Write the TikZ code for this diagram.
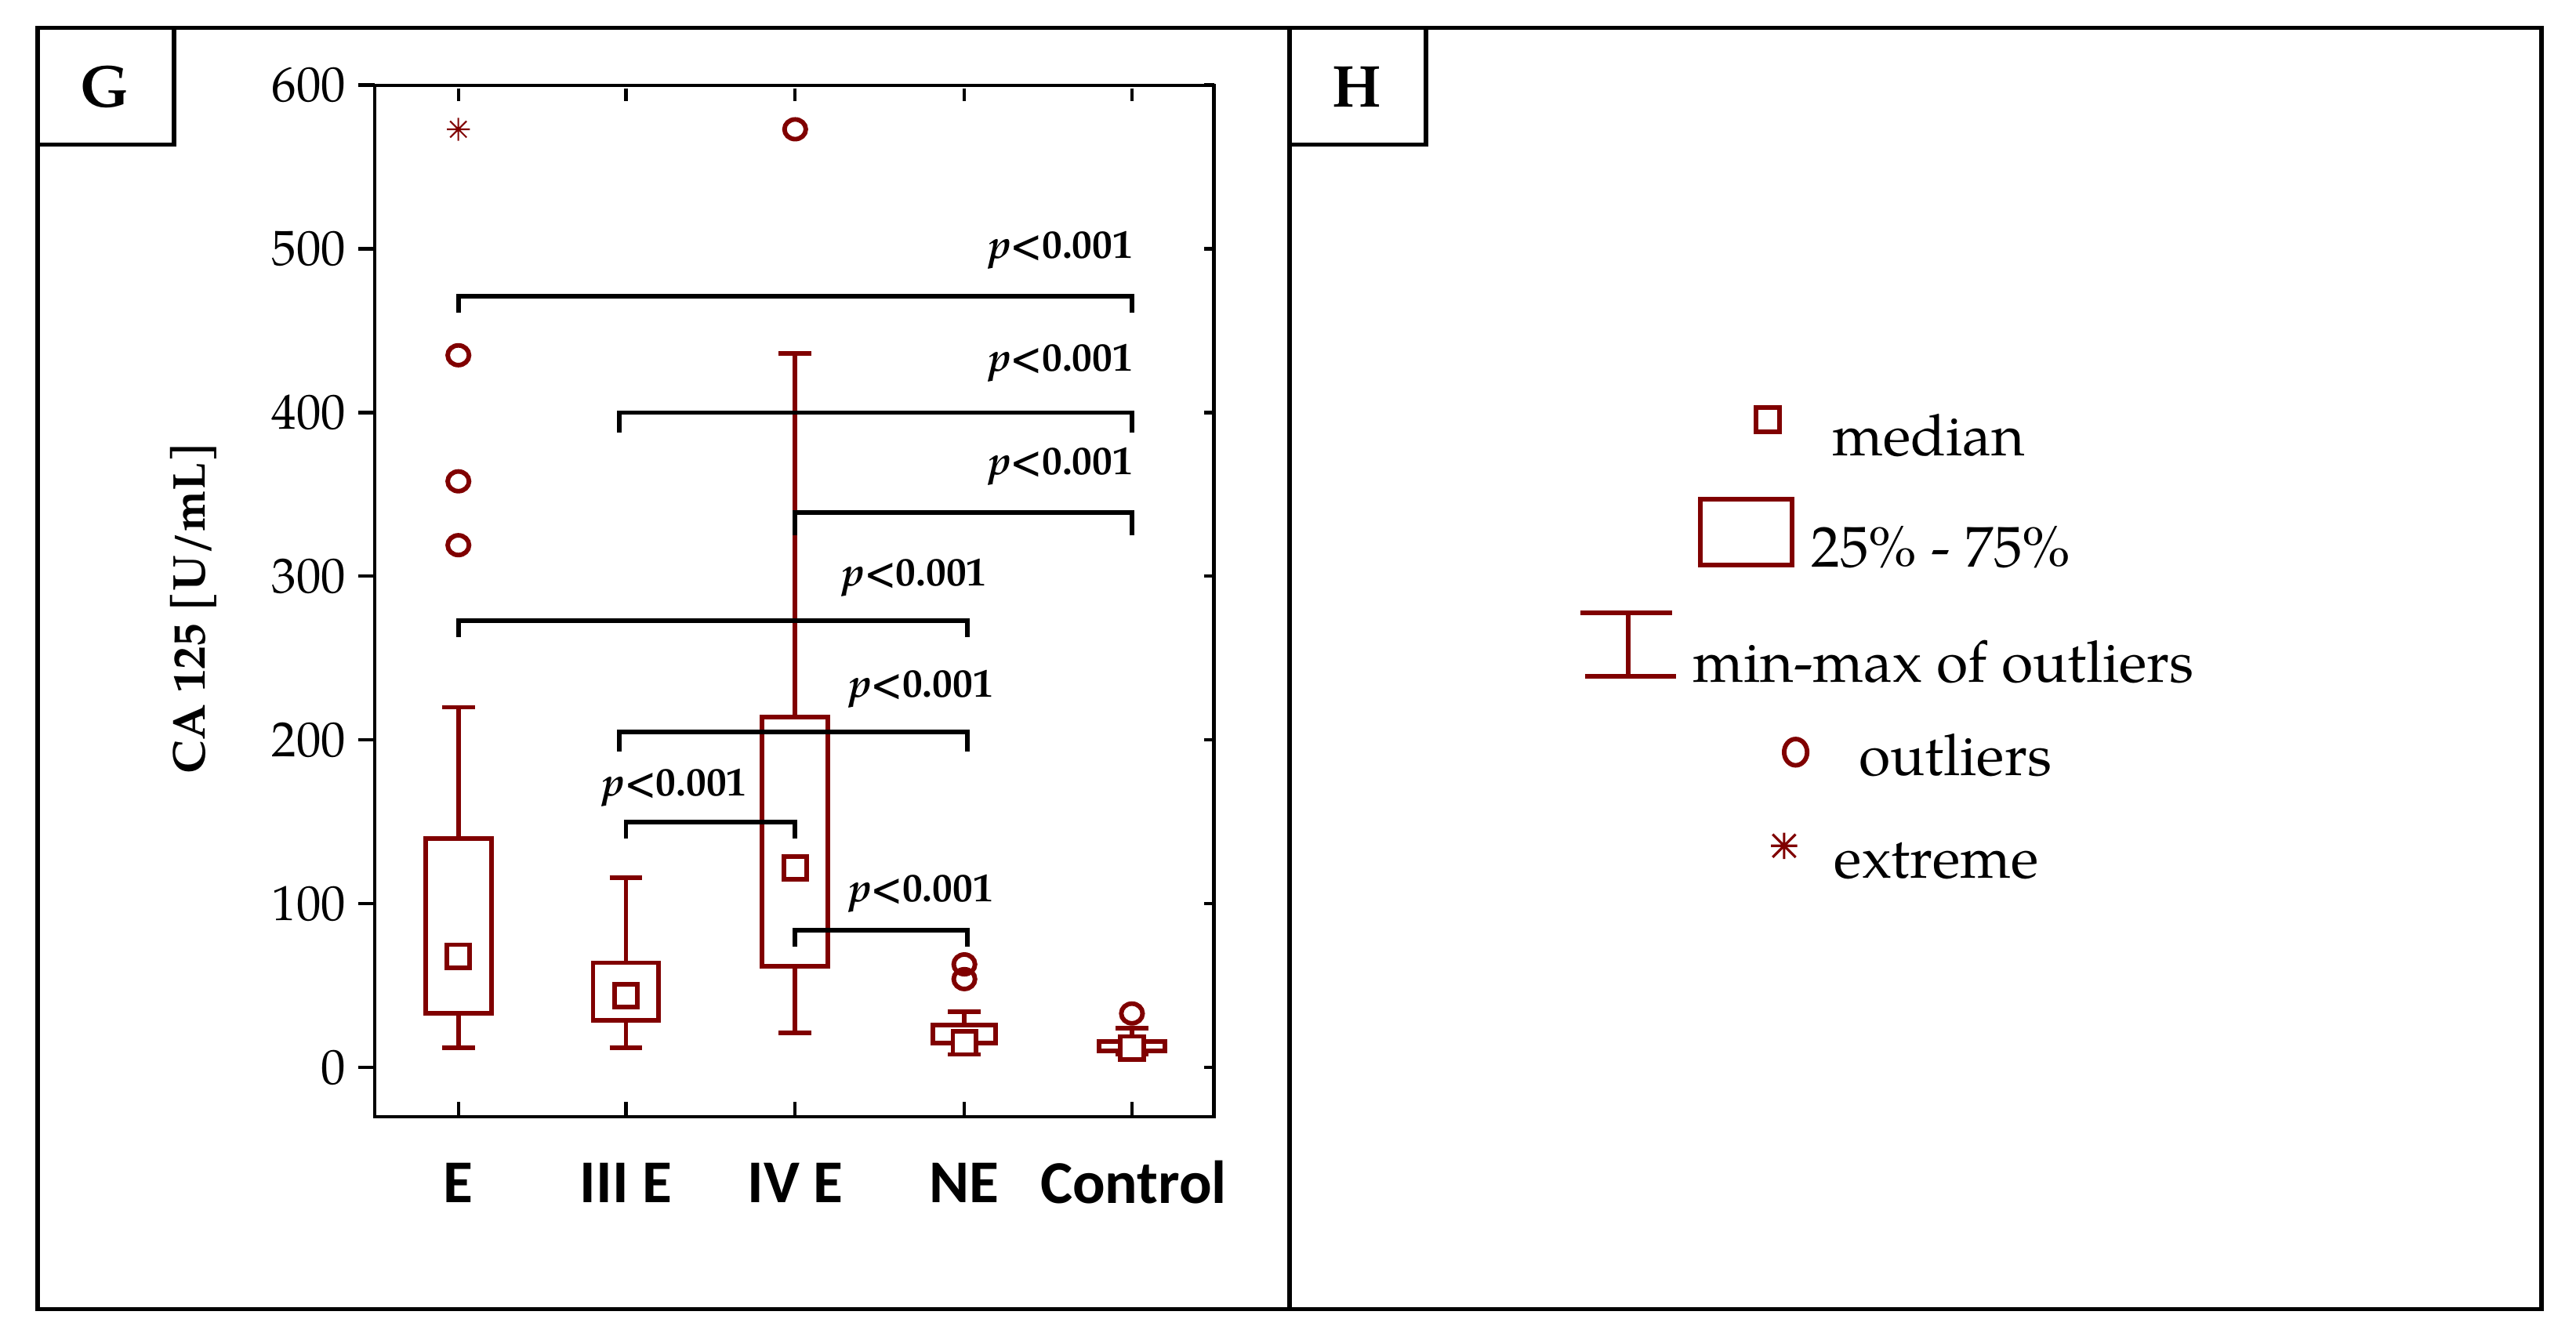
\documentclass[tikz,border=0pt]{standalone}
\usepackage{fontspec}
\setmainfont{TeX Gyre Pagella}[]
\newfontfamily\sansb{Carlito}
\begin{document}
\begin{tikzpicture}[x=1pt,y=-1pt,
  dr/.style={draw=red!50!black,line width=2.8pt},
  frame/.style={draw=black,line width=2.6pt},
  br/.style={draw=black,line width=2.8pt},
  pl/.style={font=\fontsize{24.5}{26}\selectfont\bfseries},
  tk/.style={font=\fontsize{30}{32}\selectfont},
  cat/.style={font=\fontsize{37}{39}\selectfont\sansb\bfseries},
  lg/.style={font=\fontsize{35}{37}\selectfont,anchor=west}]
\useasboundingbox (0,0) rectangle (1568,818);
% frames
\draw[frame] (23,17) rectangle (1547,797);
\draw[frame] (785,17) -- (785,797);
\draw[frame] (23,88) -- (106,88) -- (106,17);
\draw[frame] (785,88) -- (868,88) -- (868,17);
\node[font=\fontsize{36}{38}\selectfont\bfseries] (G) at (64,53) {G};
\node[font=\fontsize{36}{38}\selectfont\bfseries] (H) at (826,53) {H};
% axes frame
\draw[frame,line width=2.2pt] (228,52) rectangle (739,680);
\node[tk,anchor=east] at (214,52) {600};
\node[cat] at (279,720) {E};
\node[cat] at (381,720) {III E};
\node[cat] at (484,720) {IV E};
\node[cat] at (587,720) {NE};
\node[cat] at (690,720) {Control};
\node[font=\fontsize{28}{30}\selectfont\bfseries,rotate=90] (yl) at (118,370) {CA 125 [U/mL]};
\begin{scope}[shift={(0,650)},y=0.997pt]
 \foreach \v in {0,100,...,500}{
   \node[tk,anchor=east] at (214,\v) {\v};
 }
 \foreach \v in {0,100,...,600}{
   \draw[line width=2pt] (218,\v) -- (228,\v);
   \draw[line width=2pt] (733,\v) -- (739,\v);
 }
 \foreach \x in {279,381,484,587,689}{
   \draw[line width=2pt] (\x,-30) -- (\x,-21);
   \draw[line width=2pt] (\x,598) -- (\x,590);
 }
 \foreach \x/\a/\b/\lo/\hi/\m/\w in {279/33/140/12/220/68/20, 381/29/64/12/116/44/20, 484/62/214/21/436/122/20, 587/15/26/8/34/15/19, 689/10/16/8/24/12/20}{
   \draw[dr] (\x-\w,\a) rectangle (\x+\w,\b);
   \draw[dr] (\x,\b) -- (\x,\hi) (\x-10,\hi) -- (\x+10,\hi);
   \draw[dr] (\x,\a) -- (\x,\lo) (\x-10,\lo) -- (\x+10,\lo);
   \draw[dr,fill=white] (\x-7,\m-7) rectangle (\x+7,\m+7);
 }
 \foreach \x/\v in {279/435,279/358,279/319,484/573,587/63,587/54,689/33}{
   \draw[dr] (\x,\v) ellipse (6.5pt and 6pt);
 }
 \draw[red!50!black,line width=1pt] (272,573) -- (286,573) (279,580) -- (279,566) (274,578) -- (284,568) (274,568) -- (284,578);
 \foreach \a/\b/\v/\d in {279/689/471/10, 377/689/400/12, 484/689/339/14, 279/589/273/10, 377/589/205/12, 381/484/150/10, 484/589/84/10}{
   \draw[br] (\a,\v-\d) -- (\a,\v) -- (\b,\v) -- (\b,\v-\d);
 }
 \node[pl,anchor=east] at (693,499) {\textit{p}<0.001};
 \node[pl,anchor=east] at (693,430) {\textit{p}<0.001};
 \node[pl,anchor=east] at (693,367) {\textit{p}<0.001};
 \node[pl,anchor=east] at (604,299) {\textit{p}<0.001};
 \node[pl,anchor=east] at (608,231) {\textit{p}<0.001};
 \node[pl,anchor=east] at (458,171) {\textit{p}<0.001};
 \node[pl,anchor=east] at (608,106) {\textit{p}<0.001};
\end{scope}
% legend
\draw[dr] (1069,248) rectangle (1083,263);
\node[lg] (l1) at (1112,265) {median};
\draw[dr] (1035,304) rectangle (1091,344);
\node[lg] (l2) at (1099,333) {25\% - 75\%};
\draw[dr] (962,373) -- (1018,373) (991,373) -- (991,412) (965,412) -- (1020,412);
\node[lg] (l3) at (1027,403) {min-max of outliers};
\draw[dr] (1093,458) ellipse (7pt and 8pt);
\node[lg] (l4) at (1128,460) {outliers};
\draw[red!50!black,line width=1.5pt] (1078,515) -- (1094,515) (1086,507) -- (1086,523) (1079,508) -- (1093,522) (1079,522) -- (1093,508);
\node[lg] (l5) at (1113,524) {extreme};
\end{tikzpicture}
\end{document}
